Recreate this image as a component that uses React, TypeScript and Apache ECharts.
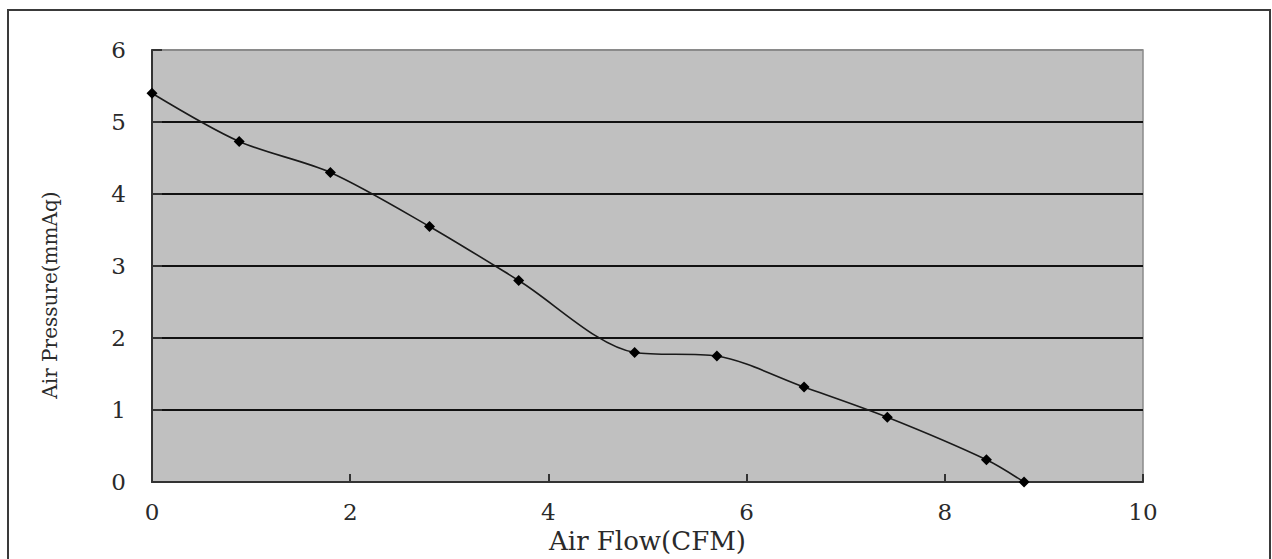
import React, { useEffect, useRef } from "react";
import * as echarts from "echarts";

const airFlow = [0, 0.88, 1.8, 2.8, 3.7, 4.87, 5.7, 6.58, 7.42, 8.42, 8.8];
const airPressure = [5.4, 4.73, 4.3, 3.55, 2.8, 1.8, 1.75, 1.32, 0.9, 0.31, 0];
const xTitle = "Air Flow(CFM)";
const yTitle = "Air Pressure(mmAq)";

export default function App() {
  const ref = useRef<HTMLDivElement>(null);
  useEffect(() => {
    if (!ref.current) return;
    const chart = echarts.init(ref.current, undefined, { renderer: "svg" });
    const font = "DejaVu Serif";
    chart.setOption({
      animation: false,
      backgroundColor: "#ffffff",
      graphic: [
        {
          type: "rect",
          shape: { x: 8, y: 10, width: 1262, height: 560 },
          style: { fill: "none", stroke: "#3a3a3a", lineWidth: 2 },
          silent: true,
        },
      ],
      grid: {
        left: 152,
        right: 129,
        top: 50,
        bottom: 71,
        show: true,
        backgroundColor: "#C0C0C0",
        borderColor: "#8a8a8a",
        borderWidth: 1.5,
      },
      xAxis: {
        type: "value",
        min: 0,
        max: 10,
        interval: 2,
        name: xTitle,
        nameLocation: "middle",
        nameGap: 40,
        nameTextStyle: { fontFamily: font, fontSize: 26, color: "#2a2a2a" },
        axisLine: { show: true, lineStyle: { color: "#333", width: 2 } },
        axisTick: { show: true, inside: true, length: 8, lineStyle: { color: "#333", width: 2 } },
        axisLabel: { margin: 18, fontFamily: font, fontSize: 23, color: "#2a2a2a" },
        splitLine: { show: false },
      },
      yAxis: {
        type: "value",
        min: 0,
        max: 6,
        interval: 1,
        name: yTitle,
        nameLocation: "middle",
        nameGap: 92,
        nameTextStyle: { fontFamily: font, fontSize: 20, color: "#2a2a2a", padding: [0, 58, 0, 0] },
        axisLine: { show: true, lineStyle: { color: "#333", width: 2 } },
        axisTick: { show: true, inside: true, length: 10, lineStyle: { color: "#333", width: 2 } },
        axisLabel: { margin: 26, fontFamily: font, fontSize: 23, color: "#2a2a2a" },
        splitLine: {
          show: true,
          lineStyle: {
            color: ["#8a8a8a", "#111", "#111", "#111", "#111", "#111", "#8a8a8a"],
            width: 2,
          },
        },
      },
      series: [
        {
          type: "line",
          data: airFlow.map((x, i) => [x, airPressure[i]]),
          smooth: 0.3,
          symbol: "diamond",
          symbolSize: 11,
          itemStyle: { color: "#000" },
          lineStyle: { color: "#1a1a1a", width: 1.6 },
        },
      ],
    });
    return () => chart.dispose();
  }, []);
  return (
    <div
      ref={ref}
      style={{ position: "fixed", left: 0, top: 0, width: 1272, height: 559 }}
    />
  );
}
